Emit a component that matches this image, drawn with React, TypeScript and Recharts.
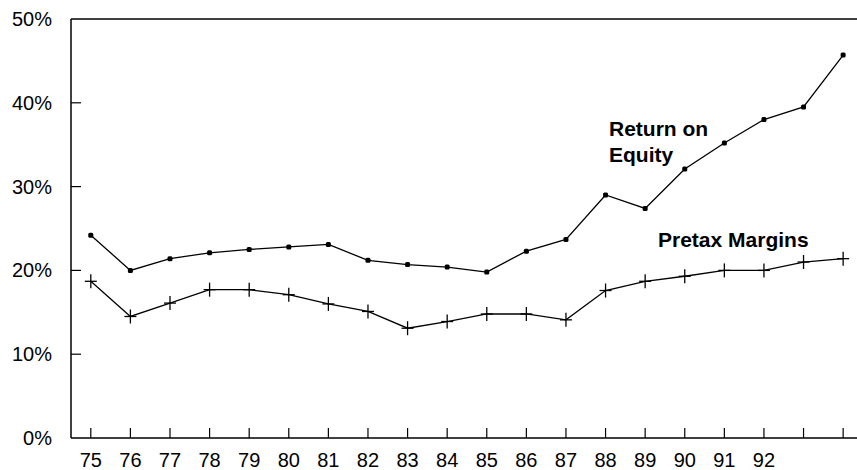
import React from "react";
import { LineChart, Line, XAxis, YAxis, ReferenceLine, Customized } from "recharts";

const years = [75, 76, 77, 78, 79, 80, 81, 82, 83, 84, 85, 86, 87, 88, 89, 90, 91, 92, 93, 94];
const returnOnEquity = [24.2, 20.0, 21.4, 22.1, 22.5, 22.8, 23.1, 21.2, 20.7, 20.4, 19.8, 22.3, 23.7, 29.0, 27.4, 32.1, 35.2, 38.0, 39.5, 45.7];
const pretaxMargins = [18.7, 14.5, 16.1, 17.7, 17.7, 17.1, 16.0, 15.1, 13.1, 13.9, 14.8, 14.8, 14.1, 17.6, 18.7, 19.3, 20.0, 20.0, 21.0, 21.4];
const xTickLabels = ["75", "76", "77", "78", "79", "80", "81", "82", "83", "84", "85", "86", "87", "88", "89", "90", "91", "92", "", ""];
const yTicks = [0, 10, 20, 30, 40, 50];

const data = years.map((y, i) => ({ year: y, roe: returnOnEquity[i], pm: pretaxMargins[i], label: xTickLabels[i] }));

const FONT = "'Liberation Sans', Arial, Helvetica, sans-serif";

const XTick = (props: any) => {
  const { x, y, payload, index } = props;
  const lbl = xTickLabels[index] ?? "";
  return (
    <g>
      <line x1={x} y1={y} x2={x} y2={y - 10} stroke="#000" strokeWidth={1.2} />
      <text x={x} y={y + 29} textAnchor="middle" fontSize={20} fontFamily={FONT} fill="#000">
        {lbl}
      </text>
    </g>
  );
};

const YTick = (props: any) => {
  const { x, y, payload } = props;
  return (
    <g>
      {payload.value !== 50 && payload.value !== 0 && (
        <line x1={x} y1={y} x2={x + 10} y2={y} stroke="#000" strokeWidth={1.2} />
      )}
      <text x={x - 19} y={y} textAnchor="end" dominantBaseline="central" fontSize={20} fontFamily={FONT} fill="#000">
        {`${payload.value}%`}
      </text>
    </g>
  );
};

const DotMarker = (props: any) => {
  const { cx, cy } = props;
  if (cx == null || cy == null) return null;
  return <rect x={cx - 2.5} y={cy - 2.5} width={5} height={5} rx={1.5} fill="#000" />;
};

const PlusMarker = (props: any) => {
  const { cx, cy } = props;
  if (cx == null || cy == null) return null;
  return (
    <g>
      <line x1={cx - 6} y1={cy} x2={cx + 6} y2={cy} stroke="#000" strokeWidth={1.3} />
      <line x1={cx} y1={cy - 7} x2={cx} y2={cy + 7} stroke="#000" strokeWidth={1.3} />
    </g>
  );
};

const Labels = () => (
  <g fontFamily={FONT} fontWeight="bold" fontSize={21} fill="#000">
    <text x={609} y={136}>Return on</text>
    <text x={609} y={162}>Equity</text>
    <text x={658} y={247}>Pretax Margins</text>
  </g>
);

export default function App() {
  return (
    <div style={{ position: "absolute", left: 0, top: 0, width: 857, height: 470, background: "#fff" }}>
      <LineChart width={857} height={470} data={data} margin={{ top: 19, right: 0, left: 0, bottom: 0 }}>
        <XAxis
          dataKey="year"
          type="number"
          domain={[74.5, 94.35]}
          ticks={years}
          interval={0}
          tickSize={0}
          tickMargin={0}
          tickLine={false}
          height={32}
          axisLine={{ stroke: "#000", strokeWidth: 1.5 }}
          tick={<XTick />}
          allowDataOverflow
        />
        <YAxis
          type="number"
          domain={[0, 50]}
          ticks={yTicks}
          interval={0}
          width={71}
          tickSize={0}
          tickMargin={0}
          tickLine={false}
          axisLine={{ stroke: "#000", strokeWidth: 1.5 }}
          tick={<YTick />}
        />
        <ReferenceLine y={50} stroke="#000" strokeWidth={1.5} />
        <Line
          dataKey="roe"
          stroke="#000"
          strokeWidth={1.3}
          dot={<DotMarker />}
          isAnimationActive={false}
        />
        <Line
          dataKey="pm"
          stroke="#000"
          strokeWidth={1.3}
          dot={<PlusMarker />}
          isAnimationActive={false}
        />
        <Customized component={Labels} />
      </LineChart>
    </div>
  );
}
